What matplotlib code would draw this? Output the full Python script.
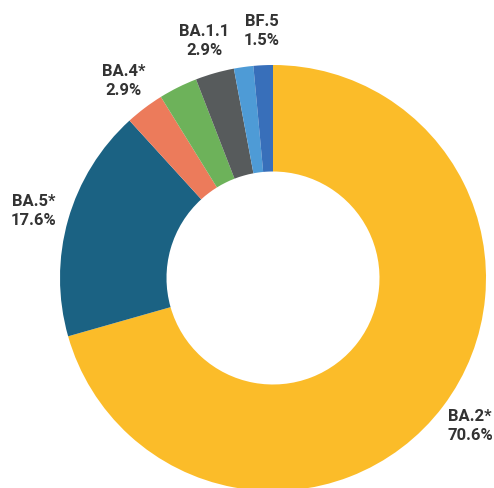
import matplotlib
matplotlib.use("Agg")
import matplotlib.pyplot as plt
import numpy as np

variants = ["BA.2*", "BA.5*", "Other", "BA.4*", "BA.1.1", "BF.5", "Other2"]
counts = [48, 12, 2, 2, 2, 1, 1]
colors = ["#FBBC29", "#1B6283", "#EC7B5B", "#6DB25A", "#575B5C", "#4E9BD6", "#386FBA"]
shown = ["BA.2*", "BA.5*", "BA.4*", "BA.1.1", "BF.5"]
label_pos = {"BA.2*": (470, 426), "BA.5*": (34, 211), "BA.4*": (124, 81),
             "BA.1.1": (204, 41), "BF.5": (262, 31)}

W, H = 494, 489
fig = plt.figure(figsize=(W / 100, H / 100), dpi=100)
cx, cy, R = 273, 279, 213
ax = fig.add_axes([(cx - R) / W, (H - cy - R) / H, 2 * R / W, 2 * R / H])
ax.pie(counts, colors=colors, startangle=90, counterclock=False, radius=1,
       wedgeprops=dict(width=0.50, linewidth=0))
ax.set_xlim(-1, 1)
ax.set_ylim(-1, 1)
ax.axis("off")

total = sum(counts)
for v, c in zip(variants, counts):
    if v in shown:
        px, py = label_pos[v]
        fig.text(px / W, 1 - py / H, f"{v}\n{100 * c / total:.1f}%", ha="center", va="center",
                 fontsize=12, fontweight="bold", family=["Roboto", "DejaVu Sans"],
                 color="#333333", linespacing=1.3)

fig.savefig("out.png", dpi=100)
